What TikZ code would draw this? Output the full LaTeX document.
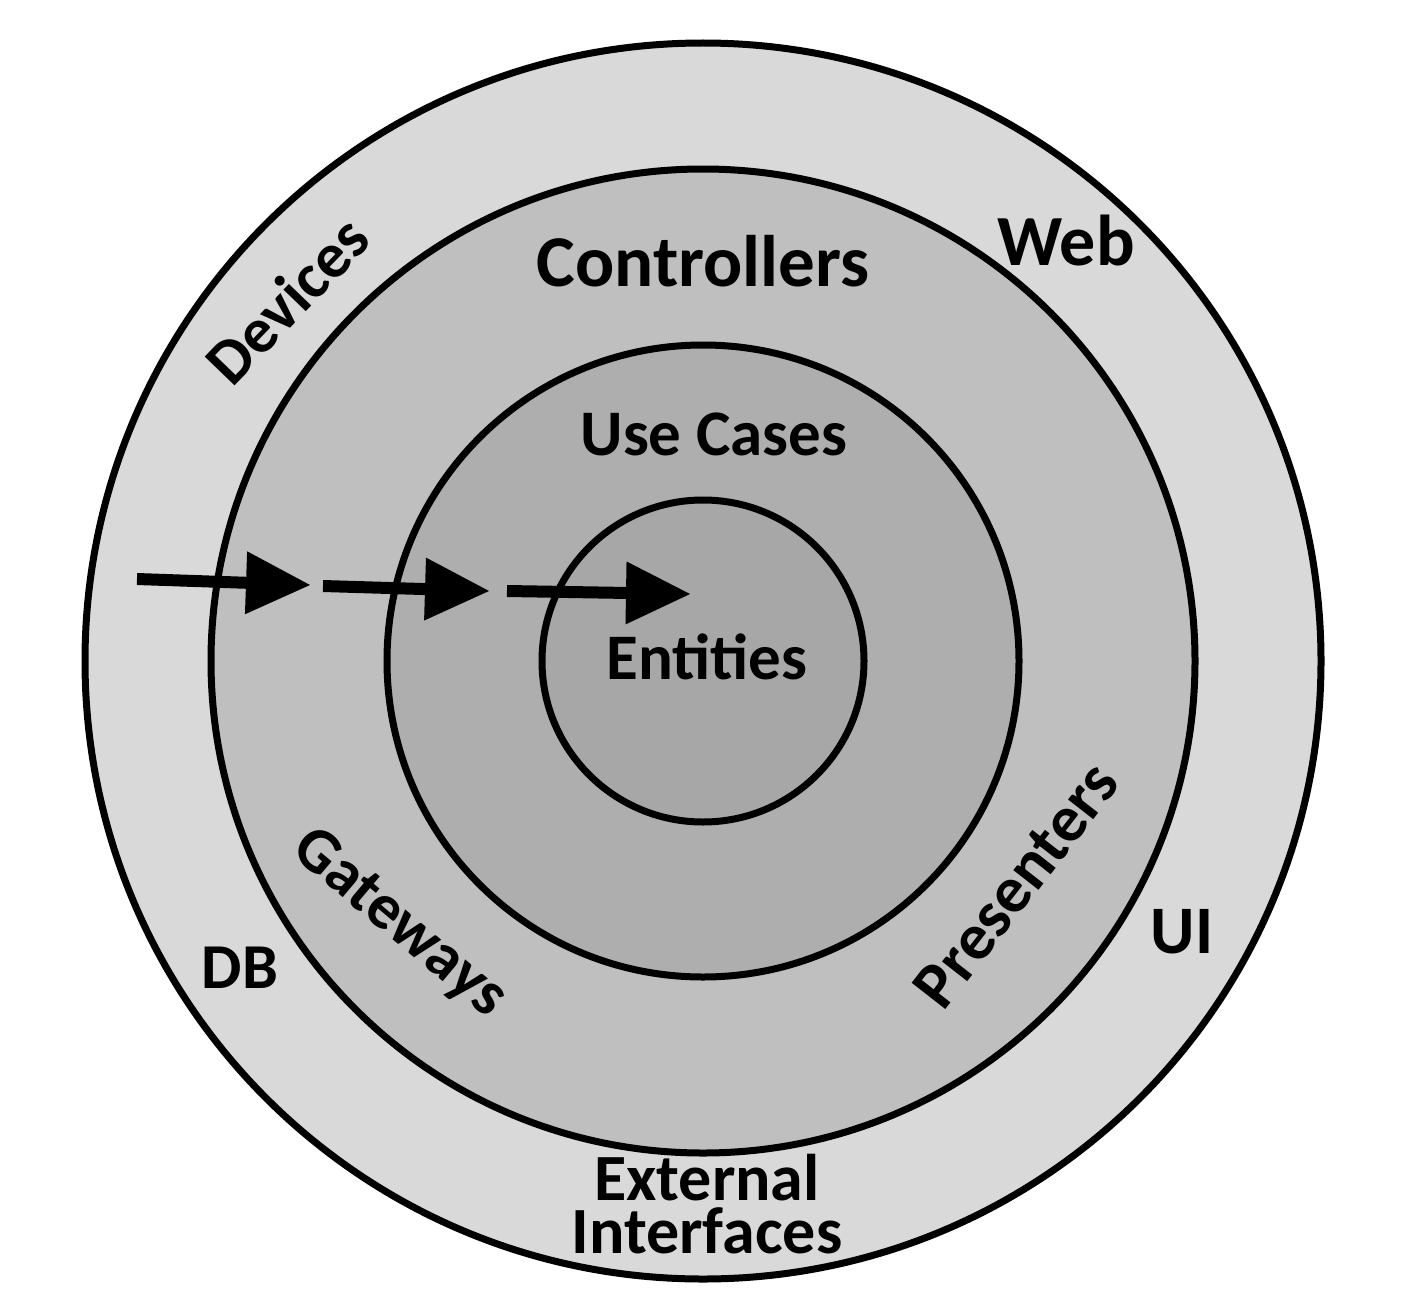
\documentclass[tikz,border=0pt]{standalone}
\usepackage{fontspec}
\setmainfont{Carlito}
\usetikzlibrary{arrows.meta}
\definecolor{ringA}{HTML}{D9D9D9}
\definecolor{ringB}{HTML}{BFBFBF}
\definecolor{ringC}{HTML}{AEAEAE}
\definecolor{ringD}{HTML}{A7A7A7}
\tikzset{
  ring/.style={draw=black, line width=3.5pt},
  lbl/.style={font=\bfseries\fontsize{#1}{#1}\selectfont, inner sep=0pt, anchor=base},
  rlbl/.style={font=\bfseries\fontsize{#1}{#1}\selectfont, inner sep=0pt, anchor=center},
  flow/.style={line width=6pt, -{Triangle[length=32pt,width=31.5pt,line width=0pt]}}
}
\begin{document}
\begin{tikzpicture}[x=0.5pt,y=-0.5pt]
\useasboundingbox (0,0) rectangle (1413,1311);
\coordinate (c) at (703,661);
\fill[white] (0,0) rectangle (1413,1311);
\draw[ring, fill=ringA] (c) circle [radius=309pt];
\draw[ring, fill=ringB] (c) circle [radius=246pt];
\draw[ring, fill=ringC] (c) circle [radius=158pt];
\draw[ring, fill=ringD] (c) circle [radius=80.5pt];

% arrows
\coordinate (a1s) at (137,579);
\coordinate (a1e) at (310,585);
\coordinate (a2s) at (323,586);
\coordinate (a2e) at (489,591);
\coordinate (a3s) at (507,591);
\coordinate (a3e) at (690,594);
\draw[flow] (a1s) -- (a1e);
\draw[flow] (a2s) -- (a2e);
\draw[flow] (a3s) -- (a3e);

% labels
\node[lbl=36.5] (ctrl) at (703,286) {Controllers};
\node[lbl=36] (web) at (1066,265) {Web};
\node[lbl=32.5] (uc) at (714,455) {Use Cases};
\node[lbl=32.5] (ent) at (707,679) {Entities};
\node[lbl=33] (ext) at (707,1200) {External};
\node[lbl=33] (intf) at (707,1253) {Interfaces};
\node[lbl=32] (db) at (240,988) {DB};
\node[lbl=34] (ui) at (1182,953) {UI};
\node[rlbl=32, rotate=46] (dev) at (287,300) {Devices};
\node[rlbl=32, rotate=-40] (gw) at (399,924) {Gateways};
\node[rlbl=33, rotate=52] (pres) at (1016,885) {Presenters};
\end{tikzpicture}
\end{document}
